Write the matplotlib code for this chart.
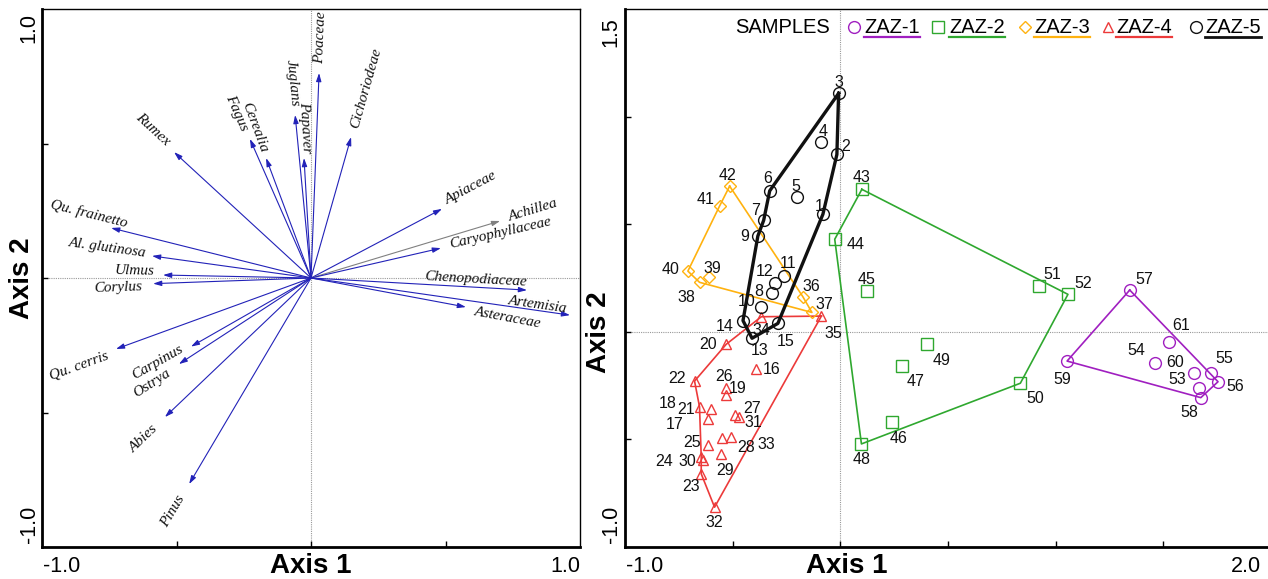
import numpy as np
import matplotlib
matplotlib.use('Agg')
import matplotlib.pyplot as plt
from matplotlib.lines import Line2D

W, H = 1268, 579

# ---- left panel: pollen taxa vectors ----
taxa = ['Rumex', 'Fagus', 'Cerealia', 'Juglans', 'Papaver', 'Poaceae', 'Cichoriodeae',
        'Apiaceae', 'Achillea', 'Caryophyllaceae', 'Chenopodiaceae', 'Artemisia',
        'Asteraceae', 'Qu. frainetto', 'Al. glutinosa', 'Ulmus', 'Corylus', 'Qu. cerris',
        'Carpinus', 'Ostrya', 'Abies', 'Pinus']
taxa_x = [-0.509, -0.227, -0.167, -0.059, -0.026, 0.030, 0.149, 0.487, 0.703, 0.483, 0.803,
          0.963, 0.576, -0.743, -0.591, -0.550, -0.587, -0.725, -0.446, -0.491, -0.543, -0.453]
taxa_y = [0.468, 0.517, 0.446, 0.606, 0.446, 0.762, 0.524, 0.257, 0.212, 0.111, -0.045,
          -0.138, -0.108, 0.186, 0.082, 0.011, -0.021, -0.264, -0.255, -0.320, -0.517, -0.766]

# ---- right panel: samples per zone ----
zaz1_ids = [53, 54, 55, 56, 57, 58, 59, 60, 61]
zaz1_x = [1.664, 1.463, 1.723, 1.754, 1.344, 1.674, 1.053, 1.642, 1.526]
zaz1_y = [-0.260, -0.146, -0.193, -0.232, 0.194, -0.306, -0.136, -0.190, -0.047]
zaz1_hull = [57, 56, 58, 59]

zaz2_ids = [43, 44, 45, 46, 47, 48, 49, 50, 51, 52]
zaz2_x = [0.100, -0.026, 0.125, 0.240, 0.286, 0.098, 0.402, 0.836, 0.921, 1.057]
zaz2_y = [0.662, 0.430, 0.190, -0.418, -0.159, -0.521, -0.057, -0.239, 0.214, 0.174]
zaz2_hull = [43, 52, 50, 48, 44]

zaz3_ids = [36, 37, 38, 39, 40, 41, 42]
zaz3_x = [-0.174, -0.132, -0.654, -0.610, -0.708, -0.561, -0.514]
zaz3_y = [0.163, 0.090, 0.230, 0.256, 0.282, 0.584, 0.677]
zaz3_hull = [42, 36, 37, 38, 40, 41]

zaz4_ids = list(range(16, 36))
zaz4_x = [-0.393, -0.615, -0.654, -0.530, -0.530, -0.599, -0.677, -0.646, -0.646, -0.615,
          -0.530, -0.491, -0.548, -0.556, -0.638, -0.471, -0.584, -0.506, -0.367, -0.088]
zaz4_y = [-0.174, -0.406, -0.348, -0.294, -0.058, -0.360, -0.229, -0.660, -0.580, -0.526,
          -0.262, -0.386, -0.495, -0.568, -0.595, -0.394, -0.815, -0.490, 0.070, 0.073]
zaz4_hull = [35, 32, 23, 24, 18, 22, 20, 34]

zaz5_ids = list(range(1, 16))
zaz5_x = [-0.081, -0.016, -0.008, -0.090, -0.200, -0.328, -0.356, -0.318, -0.383, -0.370,
          -0.263, -0.305, -0.410, -0.452, -0.290]
zaz5_y = [0.546, 0.824, 1.108, 0.880, 0.625, 0.655, 0.518, 0.179, 0.445, 0.114,
          0.259, 0.228, -0.030, 0.052, 0.039]
zaz5_hull = [3, 2, 1, 15, 13, 14, 9, 7, 6]

# label offsets (pixels) for taxa names
taxa_off = [(-21, 23), (-13, 26), (-11, 31), (-3, 32), (1, 31), (2, 35), (15, 49),
            (29, 21), (33, 11), (59, 15), (-51, 11), (-32, 10), (42, -11), (-22, 14),
            (-45, 8), (-29, 4), (-35, -4), (-37, -17), (-34, -16), (-27, -19), (-21, -22),
            (-16, -27)]

# label offsets (pixels) for sample numbers
sample_off = {
    1: (-4, 8), 2: (9, 8), 3: (0, 11), 4: (2, 11), 5: (-1, 11), 6: (-2, 12), 7: (-8, 10),
    8: (-13, 2), 9: (-13, 0), 10: (-14, 6), 11: (4, 13), 12: (-10, 11), 13: (8, -12),
    14: (-18, -6), 15: (8, -18),
    16: (16, 0), 17: (-33, -5), 18: (-32, 3), 19: (11, 7), 20: (-18, 0), 21: (-25, 0),
    22: (-18, 3), 23: (-10, -13), 24: (-37, -5), 25: (-16, 2), 26: (-2, 12), 27: (17, 6),
    28: (24, -9), 29: (4, -16), 30: (-16, -2), 31: (14, -6), 32: (0, -15), 33: (35, -7),
    34: (0, -14), 35: (12, -17),
    36: (8, 10), 37: (12, 8), 38: (-13, -15), 39: (3, 8), 40: (-17, 2), 41: (-14, 7),
    42: (-2, 11),
    43: (0, 12), 44: (21, -5), 45: (-1, 11), 46: (7, -17), 47: (14, -15), 48: (0, -16),
    49: (15, -16), 50: (15, -15), 51: (14, 11), 52: (15, 11),
    53: (-21, 8), 54: (-19, 13), 55: (13, 15), 56: (17, -5), 57: (15, 11), 58: (-11, -15),
    59: (-5, -18), 60: (-19, 10), 61: (12, 16),
}

groups = [
    ('ZAZ-1', zaz1_ids, zaz1_x, zaz1_y, zaz1_hull, '#a01fc0', 'o', 8.5, 1.2),
    ('ZAZ-2', zaz2_ids, zaz2_x, zaz2_y, zaz2_hull, '#2fa82f', 's', 8.4, 1.2),
    ('ZAZ-3', zaz3_ids, zaz3_x, zaz3_y, zaz3_hull, '#ffb20f', 'D', 6.0, 1.2),
    ('ZAZ-4', zaz4_ids, zaz4_x, zaz4_y, zaz4_hull, '#ec3a3a', '^', 7.2, 1.2),
    ('ZAZ-5', zaz5_ids, zaz5_x, zaz5_y, zaz5_hull, '#111111', 'o', 8.5, 2.4),
]

sans = 'Liberation Sans'
serif = 'Liberation Serif'
plt.rcParams['font.family'] = sans

fig = plt.figure(figsize=(W / 100, H / 100), dpi=100)


def style_axes(ax):
    for s in ['left', 'bottom']:
        ax.spines[s].set_linewidth(2)
    for s in ['top', 'right']:
        ax.spines[s].set_linewidth(1)
    ax.tick_params(direction='in', length=4, width=1, labelbottom=False, labelleft=False)
    ax.axhline(0, color='#999999', lw=0.8, ls=(0, (1, 1)), zorder=0)
    ax.axvline(0, color='#999999', lw=0.8, ls=(0, (1, 1)), zorder=0)


def end_labels(ax, xlo, xhi, ylo, yhi, xlo_t, xhi_t, ylo_t, yhi_t, yoff=-13, xhi_off=0, yhi_off=-4):
    kw = dict(textcoords='offset pixels', fontsize=15.5, annotation_clip=False)
    ax.annotate(xlo_t, xy=(xlo, 0), xycoords=('data', 'axes fraction'), xytext=(1, -19),
                ha='left', va='center', **kw)
    ax.annotate(xhi_t, xy=(xhi, 0), xycoords=('data', 'axes fraction'), xytext=(xhi_off, -19),
                ha='right', va='center', **kw)
    ax.annotate(ylo_t, xy=(0, ylo), xycoords=('axes fraction', 'data'), xytext=(yoff, 4),
                ha='center', va='bottom', rotation=90, **kw)
    ax.annotate(yhi_t, xy=(0, yhi), xycoords=('axes fraction', 'data'), xytext=(yoff, yhi_off),
                ha='center', va='top', rotation=90, **kw)


# ---------------- left panel ----------------
ax1 = fig.add_axes([42 / W, 32 / H, 538 / W, 538 / H])
ax1.set_xlim(-1, 1)
ax1.set_ylim(-1, 1)
ax1.set_xticks([-0.5, 0, 0.5])
ax1.set_yticks([-0.5, 0, 0.5])
style_axes(ax1)

for name, x, y, off in zip(taxa, taxa_x, taxa_y, taxa_off):
    col = '#808080' if name == 'Achillea' else '#2222b8'
    ax1.annotate('', xy=(x, y), xytext=(0, 0),
                 arrowprops=dict(arrowstyle='-|>,head_length=0.7,head_width=0.22',
                                 color=col, lw=0.8, shrinkA=0, shrinkB=0, mutation_scale=7))
    ang = np.degrees(np.arctan2(y, x))
    if ang > 90:
        ang -= 180
    elif ang < -90:
        ang += 180
    ax1.annotate(name, xy=(x, y), xytext=off, textcoords='offset pixels',
                 ha='center', va='center', rotation=ang, rotation_mode='anchor',
                 family=serif, style='italic', fontsize=11, color='#111111')

end_labels(ax1, -1, 1, -1, 1, '-1.0', '1.0', '-1.0', '1.0')
ax1.annotate('Axis 1', xy=(0, 0), xycoords=('data', 'axes fraction'), xytext=(0, -19),
             textcoords='offset pixels', ha='center', va='center', fontsize=20, fontweight='bold')
ax1.annotate('Axis 2', xy=(0, 0), xycoords=('axes fraction', 'data'), xytext=(-20, 0),
             textcoords='offset pixels', ha='center', va='center', rotation=90,
             fontsize=20, fontweight='bold')

# ---------------- right panel ----------------
ax2 = fig.add_axes([625 / W, 32 / H, 646 / W, 538 / H])
ax2.set_xlim(-1, 2)
ax2.set_ylim(-1, 1.5)
ax2.set_xticks([-0.5, 0, 0.5, 1.0, 1.5])
ax2.set_yticks([-0.5, 0, 0.5, 1.0])
style_axes(ax2)

for name, ids, xs, ys, hull, col, mk, ms, hlw in groups:
    pos = {i: (x, y) for i, x, y in zip(ids, xs, ys)}
    hx = [pos[i][0] for i in hull] + [pos[hull[0]][0]]
    hy = [pos[i][1] for i in hull] + [pos[hull[0]][1]]
    ax2.plot(hx, hy, color=col, lw=hlw, zorder=2)
    ax2.plot(xs, ys, ls='none', marker=mk, ms=ms, mfc='none', mec=col, mew=1.0, zorder=3)
    for i, x, y in zip(ids, xs, ys):
        ax2.annotate(str(i), xy=(x, y), xytext=sample_off[i], textcoords='offset pixels',
                     ha='center', va='center', fontsize=11.5, color='#111111', zorder=4)

end_labels(ax2, -1, 2, -1, 1.5, '-1.0', '2.0', '-1.0', '1.5', yoff=-14, xhi_off=-10, yhi_off=-8)
ax2.annotate('Axis 1', xy=(0, 0), xycoords=('data', 'axes fraction'), xytext=(6, -19),
             textcoords='offset pixels', ha='center', va='center', fontsize=20, fontweight='bold')
ax2.annotate('Axis 2', xy=(0, 0), xycoords=('axes fraction', 'data'), xytext=(-26, 0),
             textcoords='offset pixels', ha='center', va='center', rotation=90,
             fontsize=20, fontweight='bold')


# legend row along the top
def fx(px):
    return px / W


def fy(py):
    return 1 - py / H


fig.text(fx(830), fy(33), 'SAMPLES', ha='right', va='baseline', fontsize=14.5)
leg_marker_x = [854, 938, 1025, 1108, 1196]
leg_text_x = [864, 949, 1034, 1116, 1205]
texts = []
for (name, ids, xs, ys, hull, col, mk, ms, hlw), mx, tx in zip(groups, leg_marker_x, leg_text_x):
    fig.add_artist(Line2D([fx(mx)], [fy(27)], marker=mk, ms=ms, mfc='none', mec=col,
                          mew=1.0, ls='none'))
    t = fig.text(fx(tx), fy(33), name, ha='left', va='baseline', fontsize=14.5)
    texts.append((t, col, hlw))

fig.canvas.draw()
r = fig.canvas.get_renderer()
for t, col, hlw in texts:
    bb = t.get_window_extent(r)
    fig.add_artist(Line2D([bb.x0 / W, bb.x1 / W], [fy(37)] * 2, color=col,
                          lw=1.6 if hlw < 2 else 2.0))

fig.savefig('out.png', dpi=100)
